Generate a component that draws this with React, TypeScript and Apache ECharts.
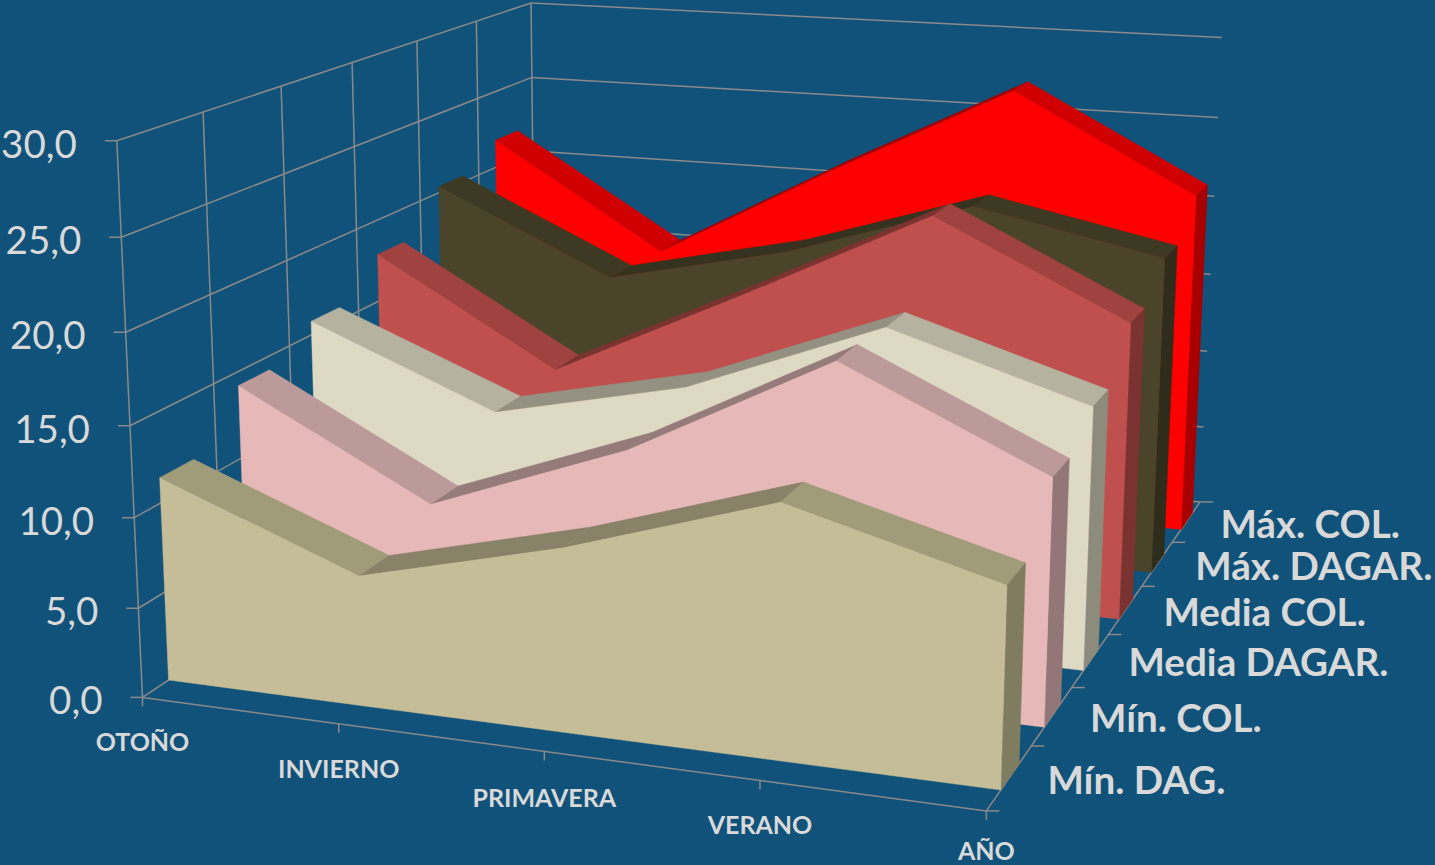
import React, { useEffect, useRef } from "react";
import * as echarts from "echarts";

const categories = ["OTOÑO", "INVIERNO", "PRIMAVERA", "VERANO", "AÑO"];
const seriesNames = ["Mín. DAG.", "Mín. COL.", "Media DAGAR.", "Media COL.", "Máx. DAGAR.", "Máx. COL."];
const minDag = [11.4, 7.2, 10.0, 13.6, 10.6];
const minCol = [14.2, 8.5, 12.7, 18.6, 13.5];
const mediaDagar = [15.8, 11.4, 13.9, 18.3, 14.9];
const mediaCol = [17.9, 11.7, 17.1, 22.7, 17.4];
const maxDagar = [20.4, 15.4, 17.9, 21.5, 19.2];
const maxCol = [21.8, 15.2, 21.3, 27.0, 21.2];
const yTicks = [0, 5, 10, 15, 20, 25, 30];
const allSeries = [minDag, minCol, mediaDagar, mediaCol, maxDagar, maxCol];

const faceColors = [
  ["#C4BD97", "#A09B78", "#888268", "#807C60"],
  ["#E6B9B8", "#BC9A99", "#957B7A", "#937677"],
  ["#DDD9C3", "#B5B2A0", "#949182", "#8D8B7C"],
  ["#C0504D", "#9F4240", "#7B3331", "#7B3331"],
  ["#4A452A", "#3D3922", "#35321F", "#2F2C1B"],
  ["#FF0000", "#D00000", "#A50000", "#A80000"],
];

// Camera calibration: unit-cube corners of the 3D frame and where they fall on the page.
type C = [number, number, number, number, number];
const calib: C[] = [];
[[142,698],[139,608],[135,517],[131,425],[125,332],[121,237],[117,141]].forEach((p,k)=>calib.push([0,0,k/6,p[0],p[1]]));
[[203,113],[281,86],[352,62],[416,41],[477,21],[531,3]].forEach((p,k)=>calib.push([0,(k+1)/6,1,p[0],p[1]]));
[[985,811],[1032,746],[1072,687],[1108,634],[1143,587],[1173,542],[1199,502]].forEach((p,k)=>calib.push([1,k/6,0,p[0],p[1]]));
[[1203,427],[1207,351],[1211,274],[1214,197],[1218,118],[1222,37]].forEach((p,k)=>calib.push([1,1,(k+1)/6,p[0],p[1]]));
calib.push([0.25,0,0,338,725]);

function solveCamera(pts: C[]) {
  const n = 11;
  const A = Array.from({ length: n }, () => new Array(n + 1).fill(0));
  const add = (r: number[], b: number) => {
    for (let i = 0; i < n; i++) {
      for (let j = 0; j < n; j++) A[i][j] += r[i] * r[j];
      A[i][n] += r[i] * b;
    }
  };
  pts.forEach(([X, Y, Z, uu, vv]) => {
    const u = uu / 1000, v = vv / 1000;
    add([X, Y, Z, 1, 0, 0, 0, 0, -u * X, -u * Y, -u * Z], u);
    add([0, 0, 0, 0, X, Y, Z, 1, -v * X, -v * Y, -v * Z], v);
  });
  for (let c = 0; c < n; c++) {
    let m = c;
    for (let r = c + 1; r < n; r++) if (Math.abs(A[r][c]) > Math.abs(A[m][c])) m = r;
    [A[c], A[m]] = [A[m], A[c]];
    for (let r = 0; r < n; r++) {
      if (r === c) continue;
      const f = A[r][c] / A[c][c];
      for (let k = c; k <= n; k++) A[r][k] -= f * A[c][k];
    }
  }
  return A.map((row, i) => row[n] / row[i]);
}
const P = solveCamera(calib);
const project = (x: number, y: number, z: number): [number, number] => {
  const w = P[8] * x + P[9] * y + P[10] * z + 1;
  return [(1000 * (P[0] * x + P[1] * y + P[2] * z + P[3])) / w, (1000 * (P[4] * x + P[5] * y + P[6] * z + P[7])) / w];
};
const SLAB_FRONT = 0.31, SLAB_BACK = 0.72;

const TEXT = "#D9D9D9";
const GRID = "#8A8A8A";
const FONT = "Lato";

export default function App() {
  const ref = useRef<HTMLDivElement>(null);
  useEffect(() => {
    document.body.style.margin = "0";
    const chart = echarts.init(ref.current!, undefined, { renderer: "svg" });
    const toUnit = (api: any, i: number, v: number) => {
      const o = api.coord([0, 0]), e = api.coord([categories.length - 1, 30]), c = api.coord([i, v]);
      return [(c[0] - o[0]) / (e[0] - o[0]), (c[1] - o[1]) / (e[1] - o[1])];
    };
    const line = (a: number[], b: number[]) => ({
      type: "line", shape: { x1: a[0], y1: a[1], x2: b[0], y2: b[1] }, style: { stroke: GRID, lineWidth: 1.5 },
    });
    const poly = (points: number[][], fill: string) => ({
      type: "polygon", shape: { points }, style: { fill, stroke: fill, lineWidth: 0.4 },
    });
    const slabSeries = allSeries.map((values, k) => ({
      type: "custom", coordinateSystem: "cartesian2d", name: seriesNames[k],
      data: values.map((v, i) => [i, v]), encode: { x: 0, y: 1 }, silent: true,
      renderItem: (params: any, api: any) => {
        if (params.dataIndex !== 0) return null;
        const d0 = (k + SLAB_FRONT) / 6, d1 = (k + SLAB_BACK) / 6;
        const pts = values.map((_, i) => toUnit(api, i, api.value(1, i)));
        const [fr, topD, topU, side] = faceColors[k];
        const children: any[] = [];
        for (let i = 0; i < pts.length - 1; i++) {
          const a = pts[i], b = pts[i + 1];
          children.push(poly([project(a[0], d0, a[1]), project(b[0], d0, b[1]), project(b[0], d1, b[1]), project(a[0], d1, a[1])], b[1] < a[1] ? topD : topU));
        }
        const last = pts[pts.length - 1];
        children.push(poly([project(last[0], d0, last[1]), project(last[0], d1, last[1]), project(last[0], d1, 0), project(last[0], d0, 0)], side));
        children.push(poly([...pts.map((p) => project(p[0], d0, p[1])), project(last[0], d0, 0), project(pts[0][0], d0, 0)], fr));
        return { type: "group", children };
      },
    }));
    const wallSeries = {
      type: "custom", coordinateSystem: "cartesian2d", silent: true,
      data: yTicks.map((t) => [0, t]), encode: { x: 0, y: 1 },
      renderItem: (params: any, api: any) => {
        const z = toUnit(api, 0, api.value(1))[1];
        const a = project(0, 0, z), b = project(0, 1, z), c = project(1, 1, z);
        const children: any[] = [line(a, b), line(b, c), line(a, [a[0] - 12, a[1]]),
          { type: "text", style: { text: api.value(1).toFixed(1).replace(".", ","), x: a[0] - 40, y: a[1] + 2, fill: TEXT, font: `38.5px ${FONT}`, align: "right", verticalAlign: "middle" } }];
        if (params.dataIndex === 0) {
          for (let k = 0; k <= 6; k++) {
            const d = k / 6;
            children.push(line(project(0, d, 0), project(0, d, 1)));
            const f = project(1, d, 0);
            children.push(line(f, [f[0] + 13, f[1]]));
          }
          children.push(line(project(0, 0, 0), project(1, 0, 0)), line(project(1, 0, 0), project(1, 1, 0)));
          seriesNames.forEach((name, k) => {
            const m = project(1, (k + 0.5) / 6, 0);
            children.push({ type: "text", style: { text: name, x: m[0] + (k === 5 ? 34 : 38), y: m[1] + 1, fill: TEXT, font: `bold 38.6px ${FONT}`, align: "left", verticalAlign: "middle" } });
          });
          categories.forEach((name, i) => {
            const x = toUnit(api, i, 0)[0];
            const m = project(x, 0, 0);
            children.push(line(m, [m[0], m[1] + 9]));
            children.push({ type: "text", style: { text: name, x: m[0], y: m[1] + (i === 4 ? 39 : i === 2 ? 46 : 44), fill: TEXT, font: `bold 25px ${FONT}`, align: "center", verticalAlign: "middle" } });
          });
        }
        return { type: "group", children };
      },
    };
    chart.setOption({
      animation: false,
      backgroundColor: "#10527A",
      grid: { left: 0, right: 0, top: 0, bottom: 0 },
      xAxis: { type: "category", data: categories, boundaryGap: false, show: false },
      yAxis: { type: "value", min: 0, max: 30, interval: 5, show: false },
      series: [wallSeries, ...slabSeries.reverse()],
    });
    return () => chart.dispose();
  }, []);
  return <div ref={ref} style={{ position: "absolute", left: 0, top: 0, width: 1435, height: 865 }} />;
}
